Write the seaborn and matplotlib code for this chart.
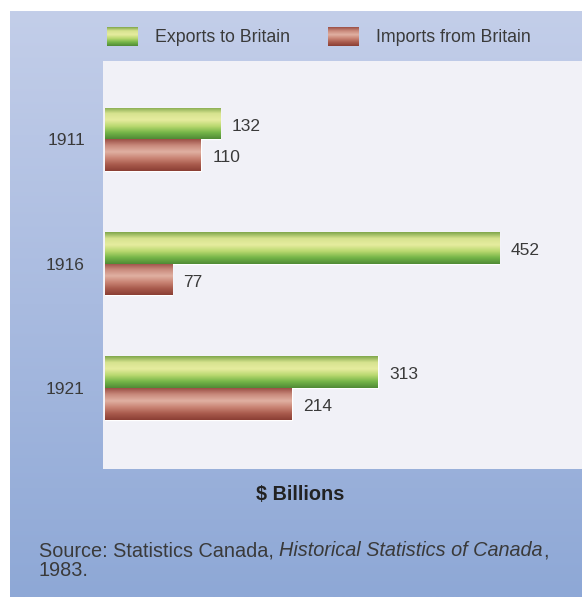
import numpy as np
import pandas as pd
import matplotlib
matplotlib.use("Agg")
import matplotlib.pyplot as plt
from matplotlib.colors import LinearSegmentedColormap
import seaborn as sns

years = ["1911", "1916", "1921"]
exports = [132, 452, 313]
imports = [110, 77, 214]
series = ["Exports to Britain", "Imports from Britain"]

df = pd.DataFrame({
    "year": years * 2,
    "value": exports + imports,
    "series": [series[0]] * 3 + [series[1]] * 3,
})

sns.set_theme(style="white")
plt.rcParams["font.family"] = ["Liberation Sans", "DejaVu Sans"]

W, H = 582, 597
fig = plt.figure(figsize=(W / 100, H / 100), dpi=100)
fig.patch.set_facecolor("white")

# background gradient panel
bg = fig.add_axes([10 / W, 0, 1 - 10 / W, 1 - 11 / H])
grad = np.linspace(0, 1, 256).reshape(-1, 1)
bgcmap = LinearSegmentedColormap.from_list("bg", ["#c3cee9", "#a9bbe0", "#8ea8d6"])
bg.imshow(grad, aspect="auto", cmap=bgcmap, extent=[0, 1, 0, 1], origin="upper")
bg.set_axis_off()

ax = fig.add_axes([103 / W, 1 - 469 / H, 1 - 103 / W, (469 - 61) / H])
ax.set_facecolor("#f1f1f7")

palette = {series[0]: "#9cc45a", series[1]: "#b8695d"}
sns.barplot(data=df, y="year", x="value", hue="series", orient="h",
            palette=palette, width=0.51, ax=ax, legend=False, saturation=1)

green_cmap = LinearSegmentedColormap.from_list(
    "g", ["#7fa64a", "#d7e38f", "#e6ec9f", "#b9d86f", "#74b548", "#4f8a35"])
red_cmap = LinearSegmentedColormap.from_list(
    "r", ["#9a4e44", "#c98a7c", "#e0b0a2", "#c98474", "#a85a4c", "#8a3e34"])

ax.set_xlim(-2.3, 547)
ax.set_ylim(2.65, -0.63)

green_r = matplotlib.colors.to_rgba("#9cc45a")[0]
patches = [p for p in ax.patches if p.get_width() > 0]
for p in patches:
    x0, y0 = p.get_x(), p.get_y()
    w, h = p.get_width(), p.get_height()
    cmap = green_cmap if abs(p.get_facecolor()[0] - green_r) < 0.05 else red_cmap
    im = ax.imshow(grad, aspect="auto", cmap=cmap,
                   extent=[x0, x0 + w, y0 + h, y0], origin="upper", zorder=3)
    im.set_clip_path(p)
    ax.text(x0 + w + 13, y0 + h * 0.58, f"{int(round(w))}", va="center", ha="left",
            fontsize=12.5, color="#3a3a3a", zorder=4)

ax.set_xlim(-2.3, 547)
ax.set_ylim(2.65, -0.63)
ax.set_xlabel("")
ax.set_ylabel("")
ax.set_xticks([])
ax.tick_params(axis="y", length=0, pad=13, labelsize=12.5, labelcolor="#3a3a3a")
for s in ax.spines.values():
    s.set_visible(False)

# legend
legend_items = [(107, series[0], green_cmap), (328, series[1], red_cmap)]
for xpx, label, cmap in legend_items:
    lax = fig.add_axes([xpx / W, 1 - 46 / H, 31 / W, 19 / H])
    lax.imshow(grad, aspect="auto", cmap=cmap, extent=[0, 1, 0, 1])
    lax.set_axis_off()
    fig.text((xpx + 48) / W, 1 - 37 / H, label, ha="left", va="center",
             fontsize=12.8, color="#3a3a3a")

fig.text(300 / W, 1 - 494 / H, "$ Billions", ha="center", va="center",
         fontsize=14.3, fontweight="bold", color="#222222")

renderer = fig.canvas.get_renderer()
fs = 14.3
src = fig.text(39 / W, 1 - 551 / H, "Source: Statistics Canada, ", ha="left", va="center",
               fontsize=fs, color="#3a3a3a")
bb = src.get_window_extent(renderer=renderer)
src2 = fig.text(bb.x1 / W, 1 - 551 / H, "Historical Statistics of Canada", ha="left",
                va="center", fontsize=fs, color="#3a3a3a", style="italic")
bb2 = src2.get_window_extent(renderer=renderer)
fig.text(bb2.x1 / W, 1 - 551 / H, ",", ha="left", va="center",
         fontsize=fs, color="#3a3a3a")
fig.text(39 / W, 1 - 571 / H, "1983.", ha="left", va="center",
         fontsize=fs, color="#3a3a3a")

fig.savefig("out.png", dpi=100)
